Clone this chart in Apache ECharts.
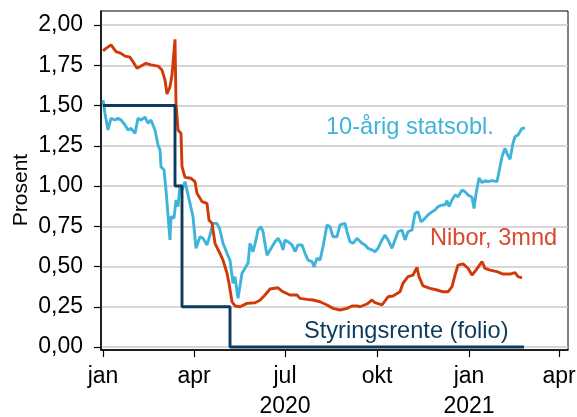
<!DOCTYPE html>
<html>
<head>
<meta charset="utf-8">
<script src="https://cdn.jsdelivr.net/npm/echarts@6/dist/echarts.min.js"></script>
<style>html,body{margin:0;padding:0;background:#fff;}#c{width:577px;height:417px;}</style>
</head>
<body>
<div id="c"></div>
<script>
// ---- data ----
const bondDates = ['2020-01-01','2020-01-03','2020-01-06','2020-01-09','2020-01-13','2020-01-16','2020-01-19','2020-01-23','2020-01-26','2020-01-29',
'2020-02-02','2020-02-05','2020-02-08','2020-02-12','2020-02-15','2020-02-18','2020-02-22','2020-02-25','2020-02-27','2020-02-28',
'2020-03-02','2020-03-04','2020-03-08','2020-03-09','2020-03-12','2020-03-14','2020-03-16','2020-03-18','2020-03-20','2020-03-23','2020-03-25','2020-03-28','2020-03-31',
'2020-04-03','2020-04-07','2020-04-10','2020-04-14','2020-04-17','2020-04-20','2020-04-24','2020-04-27','2020-04-30',
'2020-05-04','2020-05-07','2020-05-10','2020-05-12','2020-05-15','2020-05-19','2020-05-22','2020-05-25','2020-05-27','2020-05-30',
'2020-06-02','2020-06-04','2020-06-07','2020-06-09','2020-06-13','2020-06-18','2020-06-21','2020-06-24','2020-06-27','2020-06-29',
'2020-07-01','2020-07-04','2020-07-08','2020-07-11','2020-07-14','2020-07-18','2020-07-21','2020-07-24','2020-07-28','2020-07-30',
'2020-08-02','2020-08-05','2020-08-08','2020-08-12','2020-08-15','2020-08-18','2020-08-22','2020-08-25','2020-08-30',
'2020-09-01','2020-09-04','2020-09-07','2020-09-11','2020-09-16','2020-09-19','2020-09-22','2020-09-26','2020-09-29',
'2020-10-02','2020-10-06','2020-10-09','2020-10-12','2020-10-16','2020-10-19','2020-10-22','2020-10-26','2020-10-29',
'2020-11-01','2020-11-05','2020-11-08','2020-11-11','2020-11-14','2020-11-17','2020-11-21','2020-11-25','2020-11-28',
'2020-12-01','2020-12-05','2020-12-08','2020-12-10','2020-12-12','2020-12-15','2020-12-18','2020-12-21','2020-12-25','2020-12-28','2020-12-31',
'2021-01-04','2021-01-06','2021-01-08','2021-01-11','2021-01-14','2021-01-17','2021-01-20','2021-01-24','2021-01-29','2021-01-31',
'2021-02-03','2021-02-06','2021-02-08','2021-02-11','2021-02-14','2021-02-16','2021-02-19','2021-02-21','2021-02-23','2021-02-26'];
const bondValues = [1.534,1.45,1.348,1.42,1.41,1.42,1.41,1.379,1.348,1.358,
1.327,1.42,1.41,1.427,1.39,1.41,1.348,1.255,1.224,1.12,
1.099,0.975,0.665,0.81,0.80,0.913,0.872,1.006,0.975,1.027,1.037,0.892,0.81,
0.613,0.685,0.675,0.634,0.696,0.768,0.768,0.727,0.644,
0.582,0.54,0.396,0.437,0.302,0.458,0.489,0.52,0.644,0.592,
0.665,0.727,0.747,0.716,0.57,0.623,0.654,0.675,0.644,0.603,
0.665,0.654,0.634,0.592,0.634,0.634,0.582,0.54,0.53,0.499,
0.551,0.54,0.623,0.758,0.747,0.685,0.685,0.758,0.768,
0.716,0.654,0.644,0.675,0.644,0.634,0.613,0.603,0.592,
0.613,0.665,0.696,0.665,0.613,0.665,0.716,0.727,0.665,
0.716,0.727,0.83,0.84,0.778,0.793,0.82,0.84,0.851,
0.872,0.882,0.882,0.909,0.872,0.913,0.944,0.934,0.975,0.965,0.944,
0.93,0.86,0.95,1.05,1.021,1.033,1.027,1.033,1.027,1.089,
1.182,1.234,1.203,1.166,1.265,1.306,1.317,1.306,1.358,1.36];

const niborDates = ['2020-01-01','2020-01-04','2020-01-09','2020-01-14','2020-01-19','2020-01-23','2020-01-28','2020-01-31',
'2020-02-04','2020-02-08','2020-02-13','2020-02-18','2020-02-25','2020-02-29',
'2020-03-03','2020-03-05','2020-03-08','2020-03-10','2020-03-13','2020-03-14','2020-03-16','2020-03-19','2020-03-20','2020-03-23','2020-03-29',
'2020-04-02','2020-04-04','2020-04-09','2020-04-14','2020-04-16','2020-04-19','2020-04-22','2020-04-27','2020-04-30',
'2020-05-04','2020-05-06','2020-05-09','2020-05-12','2020-05-17','2020-05-24',
'2020-06-01','2020-06-06','2020-06-11','2020-06-16','2020-06-24','2020-06-29',
'2020-07-06','2020-07-13','2020-07-16','2020-07-23','2020-07-29',
'2020-08-05','2020-08-12','2020-08-18','2020-08-25',
'2020-09-01','2020-09-06','2020-09-11','2020-09-14','2020-09-21','2020-09-26','2020-09-29',
'2020-10-06','2020-10-12','2020-10-17','2020-10-24','2020-10-27',
'2020-11-01','2020-11-06','2020-11-10','2020-11-12','2020-11-16','2020-11-23','2020-11-30',
'2020-12-06','2020-12-11','2020-12-15','2020-12-18','2020-12-21','2020-12-26','2020-12-31',
'2021-01-04','2021-01-08','2021-01-14','2021-01-17','2021-01-22','2021-01-29',
'2021-02-04','2021-02-11','2021-02-16','2021-02-19','2021-02-23'];
const niborValues = [1.84,1.855,1.876,1.834,1.824,1.807,1.80,1.772,
1.731,1.745,1.762,1.752,1.745,1.72,
1.658,1.571,1.617,1.689,1.911,1.514,1.348,1.327,1.12,1.054,1.048,
1.027,0.955,0.903,0.892,0.789,0.768,0.644,0.58,0.54,
0.458,0.396,0.281,0.255,0.25,0.271,
0.275,0.29,0.323,0.36,0.368,0.343,
0.323,0.323,0.302,0.296,0.292,
0.281,0.261,0.24,0.23,
0.24,0.255,0.255,0.25,0.267,0.292,0.275,
0.261,0.312,0.317,0.343,0.396,
0.437,0.447,0.495,0.437,0.379,0.364,0.354,
0.343,0.343,0.375,0.447,0.509,0.516,0.489,
0.447,0.478,0.53,0.489,0.478,0.468,
0.453,0.453,0.462,0.437,0.43];

const policyDates = ['2020-01-01','2020-03-13','2020-03-20','2020-05-07','2021-02-25'];
const policyValues = [1.5,1.0,0.25,0,0];

const tickDates = ['2020-01-01','2020-04-01','2020-07-01','2020-10-01','2021-01-01','2021-04-01'];
const tickLabels = ['jan','apr','jul\n2020','okt','jan\n2021','apr'];
const yTicks = [0,0.25,0.5,0.75,1,1.25,1.5,1.75,2];

// ---- build ----
function ts(s){ return Date.parse(s + 'T00:00:00Z'); }
function zip(d, v){ return d.map((x,i)=>[ts(x), v[i]]); }
const tickTs = tickDates.map(ts);
const FONT = '"Liberation Sans", Arial, sans-serif';

const chart = echarts.init(document.getElementById('c'), null, {renderer:'canvas'});
chart.setOption({
  animation: false,
  grid: {left: 101, right: 9, top: 11, bottom: 67, show: true, borderColor: '#000', borderWidth: 1,
    backgroundColor: 'transparent', containLabel: false, outerBoundsMode: 'none'},
  xAxis: {
    type: 'value',
    min: ts('2019-12-30'), max: ts('2021-04-10'),
    axisLine: {show: true, onZero: false, lineStyle: {color: '#000', width: 1.5}},
    axisTick: {show: true, customValues: tickTs, length: 7, lineStyle: {color: '#000', width: 1.2}},
    axisLabel: {customValues: tickTs, color: '#000', fontSize: 23, fontFamily: FONT, lineHeight: 30, margin: 12,
      formatter: function(v){ const i = tickTs.indexOf(v); return i >= 0 ? tickLabels[i] : ''; }},
    splitLine: {show: false}
  },
  yAxis: {
    type: 'value',
    min: -0.0186, max: 2.087,
    axisLine: {show: true, onZero: false, lineStyle: {color: '#000', width: 1.5}},
    axisTick: {show: true, customValues: yTicks, length: 7, lineStyle: {color: '#000', width: 1.2}},
    axisLabel: {customValues: yTicks, color: '#000', fontSize: 23, fontFamily: FONT, margin: 18,
      formatter: function(v){ return v.toFixed(2).replace('.', ','); }},
    splitLine: {show: true, lineStyle: {color: '#c8c8c8', width: 1.5}}
  },
  series: [
    {name: '10-årig statsobl.', type: 'line', data: zip(bondDates, bondValues), symbol: 'none', z: 2,
      lineStyle: {color: '#3EB4DA', width: 2.9}},
    {name: 'Nibor, 3mnd', type: 'line', data: zip(niborDates, niborValues), symbol: 'none', z: 3,
      lineStyle: {color: '#CF3A08', width: 2.9}},
    {name: 'Styringsrente (folio)', type: 'line', step: 'end', data: zip(policyDates, policyValues), symbol: 'none', z: 4,
      lineStyle: {color: '#0D3B5E', width: 2.9}}
  ],
  graphic: [
    {type: 'text', x: 326, y: 127, style: {text: '10-årig statsobl.', fill: '#3EB4DA', font: '23.6px ' + FONT, textVerticalAlign: 'middle'}},
    {type: 'text', x: 430, y: 238, style: {text: 'Nibor, 3mnd', fill: '#D8492E', font: '23.6px ' + FONT, textVerticalAlign: 'middle'}},
    {type: 'text', x: 304, y: 331, style: {text: 'Styringsrente (folio)', fill: '#0D3B5E', font: '23.6px ' + FONT, textVerticalAlign: 'middle'}},
    {type: 'text', x: 21, y: 190, rotation: Math.PI/2, style: {text: 'Prosent', fill: '#000', font: '21px ' + FONT, textAlign: 'center', textVerticalAlign: 'middle'}}
  ]
});
</script>
</body>
</html>
